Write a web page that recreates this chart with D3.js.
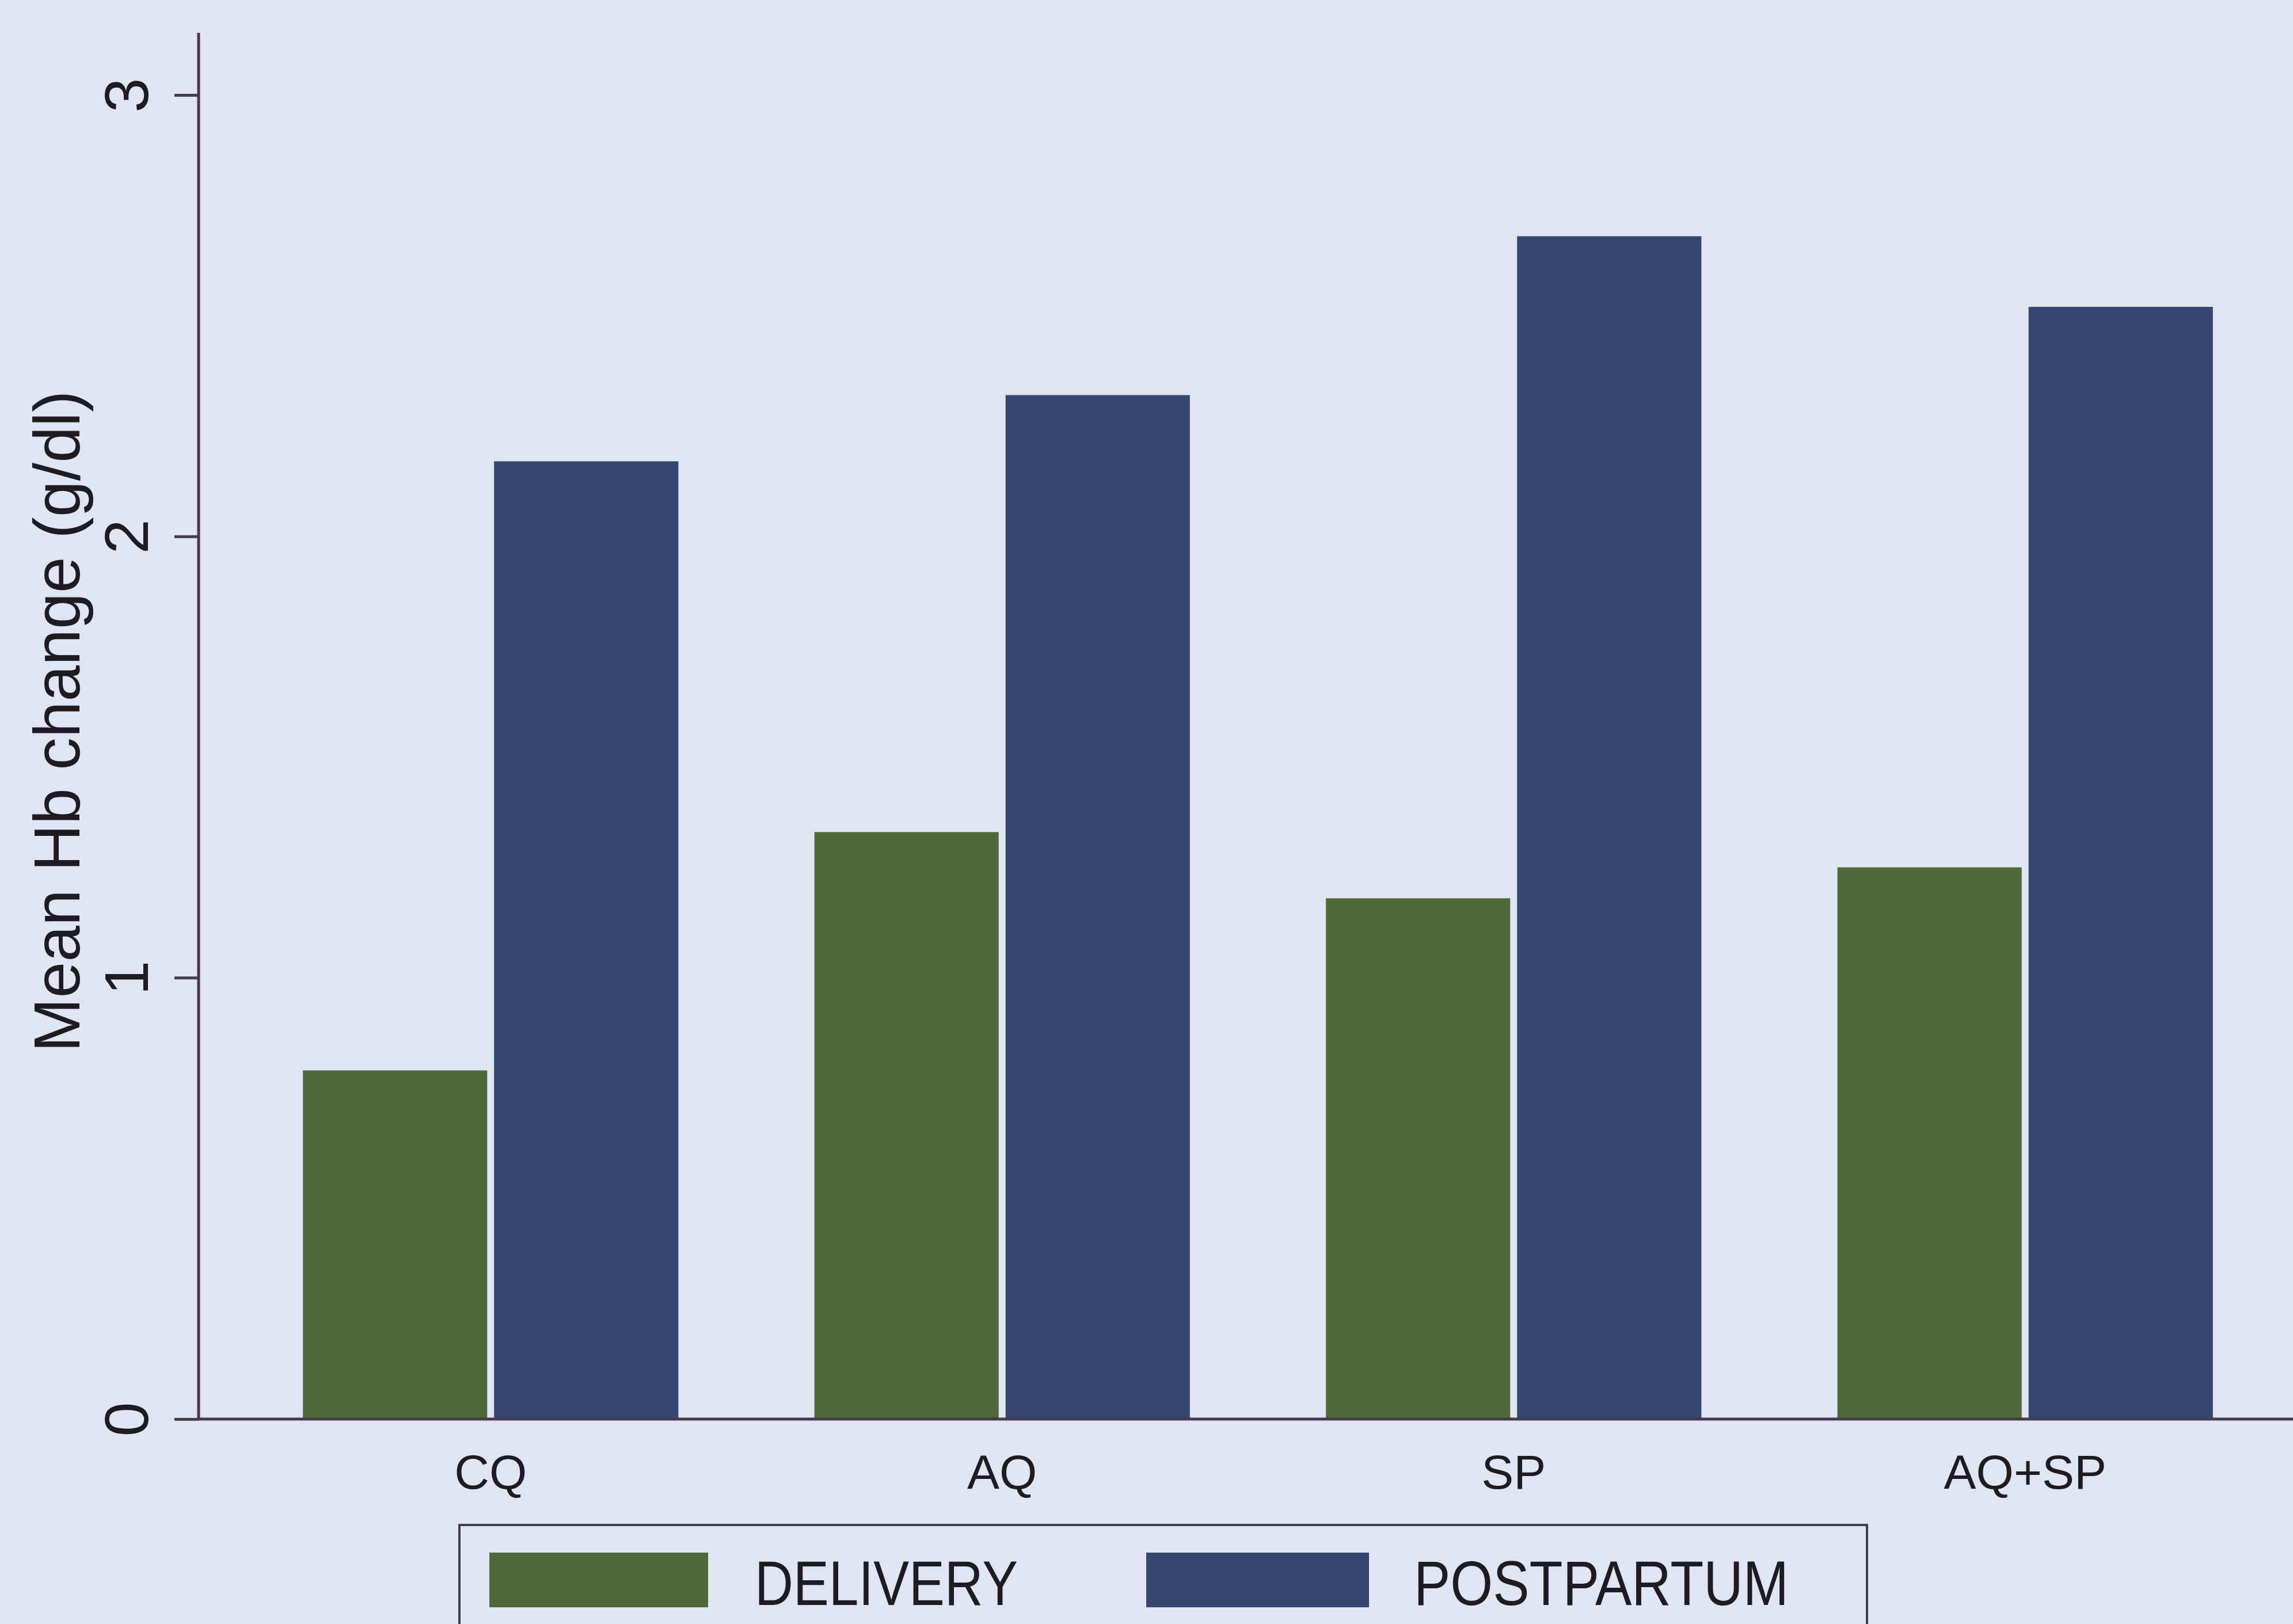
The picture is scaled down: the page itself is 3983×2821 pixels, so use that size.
<!DOCTYPE html>
<html>
<head>
<meta charset="utf-8">
<script src="https://cdn.jsdelivr.net/npm/d3@7"></script>
<style>
  html, body { margin: 0; padding: 0; background: #e1e5f3; }
  svg { display: block; }
  text { font-family: "Liberation Sans", Arial, Helvetica, sans-serif; fill: #1e1c22; }
</style>
</head>
<body>
<script>
// ---- data ----
const categories = ["CQ", "AQ", "SP", "AQ+SP"];
const seriesNames = ["DELIVERY", "POSTPARTUM"];
const delivery = [0.79, 1.33, 1.18, 1.25];
const postpartum = [2.17, 2.32, 2.68, 2.52];
const yTicks = [0, 1, 2, 3];
const yTitle = "Mean Hb change (g/dl)";

const W = 3983, H = 2821;
const colors = { DELIVERY: "#4e6a3b", POSTPARTUM: "#354771" };
const axisColor = "#433d4a";

const svg = d3.select("body").append("svg").attr("width", W).attr("height", H);
svg.append("rect").attr("width", W).attr("height", H).attr("fill", "#e1e5f3");

const axisX = 345, baseY = 2465;

const y = d3.scaleLinear().domain([0, 3]).range([baseY, 165]);
const x0 = d3.scaleBand().domain(categories).range([408, 3962]).paddingInner(0.266).paddingOuter(0.133);
const x1 = d3.scaleBand().domain(seriesNames).range([0, x0.bandwidth()]).paddingInner(0.0361).paddingOuter(0);

const rows = categories.map((c, i) => ({ cat: c, DELIVERY: delivery[i], POSTPARTUM: postpartum[i] }));

// bars
const groups = svg.append("g").selectAll("g").data(rows).join("g")
  .attr("transform", d => `translate(${x0(d.cat)},0)`);
groups.selectAll("rect").data(d => seriesNames.map(s => ({ s, v: d[s] }))).join("rect")
  .attr("x", d => x1(d.s))
  .attr("width", x1.bandwidth())
  .attr("y", d => y(d.v))
  .attr("height", d => y(0) - y(d.v))
  .attr("fill", d => colors[d.s]);

// y axis
const yAxis = svg.append("g").attr("transform", `translate(${axisX},0)`)
  .call(d3.axisLeft(y).tickValues(yTicks).tickFormat(d3.format("d")).tickSize(42).tickSizeOuter(0));
yAxis.select(".domain").remove();
yAxis.selectAll(".tick line").attr("stroke", axisColor).attr("stroke-width", 5);
yAxis.selectAll(".tick text")
  .attr("transform", "rotate(-90)")
  .attr("x", 0).attr("y", -88).attr("dy", null)
  .attr("text-anchor", "middle")
  .attr("font-size", 108)
  .attr("fill", "#1e1c22");
svg.append("line").attr("x1", axisX).attr("x2", axisX).attr("y1", 57).attr("y2", baseY + 2)
  .attr("stroke", axisColor).attr("stroke-width", 5);

// x axis
const xAxis = svg.append("g").attr("transform", `translate(0,${baseY})`)
  .call(d3.axisBottom(x0).tickSize(0).tickSizeOuter(0));
xAxis.select(".domain").remove();
xAxis.selectAll(".tick text")
  .attr("y", 121).attr("dy", null)
  .attr("font-size", 84)
  .attr("fill", "#1e1c22");
svg.append("line").attr("x1", axisX).attr("x2", W).attr("y1", baseY).attr("y2", baseY)
  .attr("stroke", axisColor).attr("stroke-width", 5);

// y title
svg.append("text")
  .attr("transform", `translate(138,1253) rotate(-90)`)
  .attr("text-anchor", "middle")
  .attr("font-size", 113)
  .text(yTitle);

// legend
const lg = svg.append("g");
lg.append("rect").attr("x", 798).attr("y", 2649).attr("width", 2445).attr("height", 300)
  .attr("fill", "none").attr("stroke", axisColor).attr("stroke-width", 4);
const legendItems = [
  { s: "DELIVERY", sx: 850, sw: 380, tx: 1311, tl: 457 },
  { s: "POSTPARTUM", sx: 1991, sw: 387, tx: 2456, tl: 651 }
];
legendItems.forEach(it => {
  lg.append("rect").attr("x", it.sx).attr("y", 2697).attr("width", it.sw).attr("height", 95)
    .attr("fill", colors[it.s]);
  lg.append("text").attr("x", it.tx).attr("y", 2788)
    .attr("font-size", 110)
    .attr("textLength", it.tl).attr("lengthAdjust", "spacingAndGlyphs")
    .text(it.s);
});
</script>
</body>
</html>
